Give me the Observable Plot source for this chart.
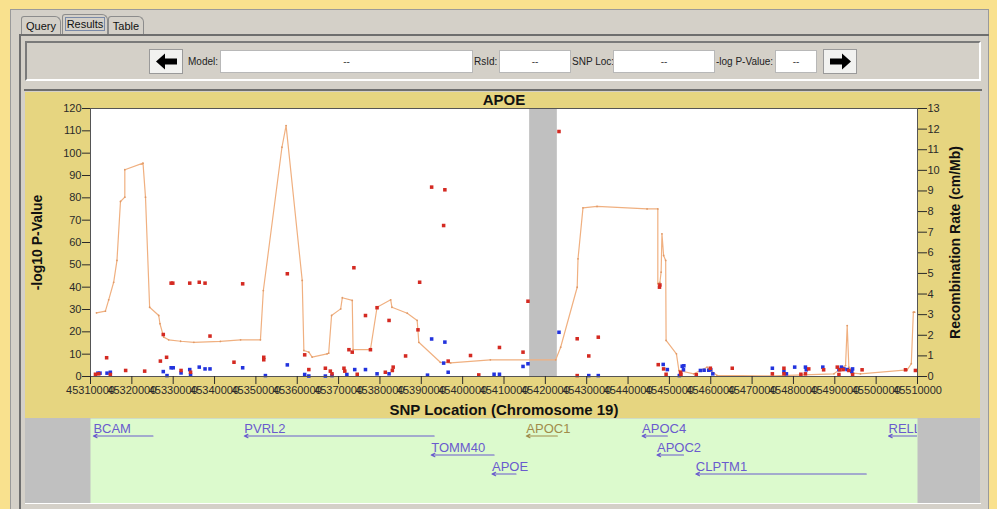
<!DOCTYPE html>
<html><head><meta charset="utf-8">
<script src="https://cdn.jsdelivr.net/npm/d3@7"></script>
<script src="https://cdn.jsdelivr.net/npm/@observablehq/plot@0.6"></script>
<style>
body{margin:0;width:997px;height:509px;background:#f9e18e;position:relative;overflow:hidden;font-family:"Liberation Sans",Arial,sans-serif;}
.abs{position:absolute;}
.tab{position:absolute;top:16px;height:18px;border:1px solid #8c8c8c;border-bottom:none;border-radius:3px 6px 0 0;font-size:11px;line-height:18px;text-align:center;color:#111;background:#d4d0c8;}
.lbl{position:absolute;top:56px;font-size:10px;color:#222;white-space:nowrap;}
.fld{position:absolute;top:50px;height:23px;background:#fff;border:1px solid #b8b8b8;box-sizing:border-box;font-size:10px;line-height:21px;text-align:center;color:#444;}
.btn{position:absolute;top:49px;width:34px;height:25px;background:#f2f2f0;border:1px solid #9a9a9a;box-sizing:border-box;}
</style></head>
<body>
<div class="abs" style="left:10px;top:9px;width:979px;height:510px;background:#d4d0c8;border:1px solid #9a9a9a;box-sizing:border-box;"></div>
<div class="tab" style="left:21px;width:38px;">Query</div>
<div class="tab" style="left:62px;top:14px;height:20px;width:44px;"><span style="border:1px solid #7a8aa8;padding:0 1px;">Results</span></div>
<div class="tab" style="left:108px;width:34px;">Table</div>
<div class="abs" style="left:19px;top:34px;width:970px;height:480px;border-top:2px solid #6e6e6e;border-left:2px solid #6e6e6e;box-sizing:border-box;"></div>
<div class="abs" style="left:25px;top:41px;width:956px;height:40px;border:2px solid #7a7a7a;border-right-color:#fff;border-bottom-color:#fff;box-sizing:border-box;"></div>
<div class="btn" style="left:149px;"><svg width="32" height="23"><path d="M6 11.5 L15 3.5 L15 8.5 L27 8.5 L27 14.5 L15 14.5 L15 19.5 Z" fill="#000"/></svg></div>
<div class="lbl" style="left:188px;">Model:</div>
<div class="fld" style="left:220px;width:253px;">--</div>
<div class="lbl" style="left:474px;">RsId:</div>
<div class="fld" style="left:499px;width:72px;">--</div>
<div class="lbl" style="left:572px;">SNP Loc:</div>
<div class="fld" style="left:613px;width:102px;">--</div>
<div class="lbl" style="left:716px;">-log P-Value:</div>
<div class="fld" style="left:775px;width:42px;">--</div>
<div class="btn" style="left:823px;"><svg width="32" height="23"><path d="M27 11.5 L18 3.5 L18 8.5 L6 8.5 L6 14.5 L18 14.5 L18 19.5 Z" fill="#000"/></svg></div>
<div class="abs" style="left:24px;top:89px;width:958px;height:2px;background:#6e6e6e;"></div>
<div id="chart" class="abs" style="left:25px;top:92px;"></div>
<div id="genes" class="abs" style="left:25px;top:418px;"></div>
<div class="abs" style="left:25px;top:503px;width:956px;height:1px;background:#ffffff;"></div>
<script>
// x axis ticks (chromosome 19 positions)
const xTicks = [45310000,45320000,45330000,45340000,45350000,45360000,45370000,45380000,45390000,45400000,45410000,45420000,45430000,45440000,45450000,45460000,45470000,45480000,45490000,45500000,45510000];
const pTicks = [0,10,20,30,40,50,60,70,80,90,100,110,120];
const rateTicks = [0,1,2,3,4,5,6,7,8,9,10,11,12,13];
const pMax = 120, rateMax = 13;

// gap (unsequenced region)
const gapStart = [45416200];
const gapEnd = [45422900];

// red SNPs: position, -log10 p
const redPos = [45313900,45312000,45314800,45318500,45323100,45326900,45327600,45328400,45329500,45329900,45331900,45334000,45334200,45336300,45337700,45338900,45344700,45346800,45351900,45351900,45357600,45361800,45362800,45366800,45368000,45368400,45371300,45371500,45372500,45373300,45373700,45374500,45376500,45377700,45379300,45381300,45382200,45383000,45383200,45386200,45389200,45389600,45392500,45395700,45395400,45396500,45401900,45403900,45408900,45414600,45415800,45423300,45427700,45427700,45430500,45432800,45447700,45447600,45447300,45448600,45449200,45452700,45452800,45456500,45459900,45465200,45474900,45477700,45477700,45481800,45482900,45483700,45487300,45490600,45491200,45492000,45493400,45496600,45507100,45509500,45491000,45494300,45311200];
const redP   = [8.4,1.2,0.9,2.7,2.4,6.9,18.8,8.6,41.8,41.8,2.7,41.8,1.9,42.2,41.8,18.1,6.4,41.5,8.6,7.5,46.0,9.7,3.1,3.7,2.4,1.2,3.7,2.4,12.0,10.9,48.7,1.0,27.3,12.0,30.8,1.9,25.1,2.7,4.2,9.2,20.9,42.2,84.8,83.6,67.6,6.9,9.4,0.7,13.0,10.9,33.7,109.7,16.9,0.4,9.2,17.6,41.0,40.0,5.3,3.4,1.0,1.9,1.0,0.8,3.7,3.7,1.2,3.7,1.2,1.0,1.2,3.4,3.0,4.2,3.0,3.1,2.7,3.0,3.0,2.7,0.9,0.8,1.0];

// blue SNPs: position, -log10 p
const bluePos = [45311800,45312300,45314000,45314800,45327600,45328500,45329500,45330000,45331900,45334000,45334200,45336300,45337700,45338900,45346800,45352300,45357600,45361800,45362800,45366800,45368400,45372000,45373900,45376500,45379300,45382200,45391500,45392500,45395700,45395400,45396500,45407600,45408900,45414600,45415800,45423300,45430500,45432800,45448500,45449500,45453100,45453500,45453400,45452400,45457500,45458400,45459500,45460000,45460500,45474900,45477700,45480300,45482900,45483100,45487100,45491000,45491600,45492200,45493000,45494300,45494100,45478300];
const blueP   = [1.5,1.5,1.5,1.9,2.2,0.4,3.9,3.9,1.6,3.1,0.7,4.2,3.4,3.4,3.9,0.4,5.2,0.9,0.2,0.2,0.4,0.9,3.1,3.1,1.2,1.2,0.6,16.8,15.4,6.0,1.9,1.0,1.0,4.5,5.7,19.8,0.4,0.4,5.4,3.1,4.6,4.8,3.0,0.4,2.7,2.8,2.8,3.0,1.2,3.7,2.2,4.2,4.2,3.0,4.2,3.1,4.2,3.4,3.1,3.4,2.2,1.2];

// recombination rate (cM/Mb)
const recPos  = [45311450,45313600,45314400,45315600,45316400,45317250,45318300,45318300,45322700,45323300,45324300,45326500,45326800,45327700,45328900,45331800,45335000,45341400,45346300,45351100,45351800,45356300,45357300,45361200,45361600,45362800,45363600,45367200,45367600,45368300,45370500,45370900,45373300,45373500,45377700,45379300,45382600,45382900,45386600,45389000,45389400,45394600,45397100,45406700,45422500,45423700,45427700,45427900,45429100,45432500,45444600,45447200,45447200,45447700,45448000,45448200,45448600,45449100,45449200,45451700,45452300,45455900,45459100,45461500,45475000,45489800,45491400,45492600,45493000,45493400,45494600,45496200,45507500,45508500,45509000,45509300];
const recRate = [3.09,3.17,3.72,4.57,5.63,8.49,8.70,10.03,10.35,8.70,3.36,2.96,2.56,1.91,1.78,1.71,1.66,1.70,1.78,1.78,4.17,11.12,12.17,4.66,1.26,1.18,0.94,1.10,1.13,2.96,3.28,3.82,3.69,1.30,1.30,3.36,3.72,3.36,3.07,2.72,1.66,0.69,0.66,0.81,0.81,1.42,4.33,5.71,8.18,8.25,8.13,8.13,4.50,4.57,5.06,6.92,5.87,5.63,1.75,1.10,0.29,0.13,0.45,0.05,0.03,0.13,0.37,0.53,2.47,0.45,0.16,0.13,0.32,0.62,3.12,3.12];

// genes
const geneNames  = ["BCAM","PVRL2","TOMM40","APOC1","APOE","APOC4","APOC2","CLPTM1","RELL"];
const geneStarts = [45310700,45347200,45392400,45415400,45407100,45443400,45447000,45456400,45503000];
const geneEnds   = [45325100,45393100,45407600,45422900,45412900,45449500,45453400,45497600,45515000];
const geneRows   = [0,0,1,0,2,0,1,2,0];

const red = redPos.map((x,i)=>({x, p: redP[i]}));
const blue = bluePos.map((x,i)=>({x, p: blueP[i]}));
const rec = recPos.map((x,i)=>({x, rate: recRate[i]}));
const gap = gapStart.map((s,i)=>({s, e: gapEnd[i]}));
const genes = geneNames.map((name,i)=>({name, start: geneStarts[i], end: geneEnds[i], row: geneRows[i]}));
const toP = r => r * pMax / rateMax;

const font = "'Liberation Sans', Arial, sans-serif";
const titleStyle = {fontWeight: "bold", fill: "#111", textAnchor: "middle", lineAnchor: "middle"};
const chart = Plot.plot({
  width: 955, height: 326,
  marginLeft: 65, marginRight: 63, marginTop: 16, marginBottom: 42,
  style: {background: "#e6d580", fontFamily: font, fontSize: "11px", color: "#2a2a2a", overflow: "visible"},
  x: {domain: [xTicks[0], xTicks[xTicks.length-1]]},
  y: {domain: [0, pMax]},
  marks: [
    Plot.frame({fill: "white", stroke: "none"}),
    Plot.rect(gap, {x1: "s", x2: "e", fill: "#c0c0c0"}),
    Plot.line(rec, {x: "x", y: d => toP(d.rate), stroke: "#f0b080", strokeWidth: 1.2}),
    Plot.dot(rec, {x: "x", y: d => toP(d.rate), r: 0.9, fill: "#e09a68"}),
    Plot.dot(blue, {x: "x", y: "p", symbol: "square", r: 2, fill: "#2233dd"}),
    Plot.dot(red, {x: "x", y: "p", symbol: "square", r: 2, fill: "#d42a22"}),
    Plot.frame({stroke: "#555"}),
    Plot.axisX({ticks: xTicks, tickFormat: d => String(d), tickSize: 8, tickPadding: 2, label: null}),
    Plot.axisY({anchor: "left", ticks: pTicks, tickSize: 8, tickPadding: 1, label: null}),
    Plot.axisY({anchor: "right", ticks: rateTicks.map(toP), tickFormat: d => String(Math.round(d * rateMax / pMax)), tickSize: 9, tickPadding: 1, label: null}),
    Plot.text(["APOE"], {frameAnchor: "top", dy: -8, fontSize: 15, ...titleStyle}),
    Plot.text(["-log10 P-Value"], {frameAnchor: "left", dx: -53, rotate: -90, fontSize: 14, ...titleStyle}),
    Plot.text(["Recombination Rate (cm/Mb)"], {frameAnchor: "right", dx: 38, rotate: -90, fontSize: 14, ...titleStyle}),
    Plot.text(["SNP Location (Chromosome 19)"], {frameAnchor: "bottom", dy: 34, fontSize: 15, ...titleStyle})
  ]
});
document.getElementById("chart").appendChild(chart);

const purple = "#6a5acd", olive = "#a08c4a";
const geneColor = d => d.name === "APOC1" ? olive : purple;
const geneChart = Plot.plot({
  width: 955, height: 85,
  marginLeft: 65, marginRight: 63, marginTop: 0, marginBottom: 0,
  style: {background: "#c0c0c0", fontFamily: font, overflow: "visible"},
  x: {domain: [xTicks[0], xTicks[xTicks.length-1]], axis: null},
  y: {domain: [0, 2], range: [10, 48], axis: null},
  marks: [
    Plot.frame({fill: "#dcfacd", stroke: "none"}),
    Plot.arrow(genes, {x1: "end", x2: "start", y1: "row", y2: "row", dy: 7.5, stroke: geneColor, strokeWidth: 1.2, headLength: 5, headAngle: 50, clip: true}),
    Plot.text(genes, {x: "start", y: "row", text: "name", textAnchor: "start", fill: geneColor, fontSize: 13, clip: true})
  ]
});
document.getElementById("genes").appendChild(geneChart);
</script>
</body></html>
